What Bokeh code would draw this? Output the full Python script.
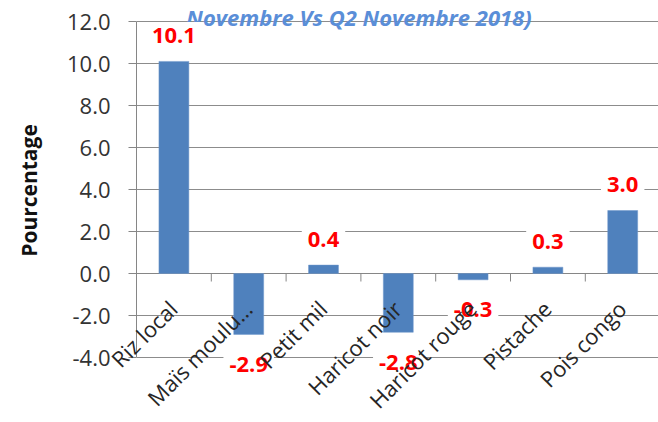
import math
from bokeh.plotting import figure
from bokeh.models import ColumnDataSource, Label, FixedTicker, NumeralTickFormatter
from bokeh.core.properties import value
from bokeh.embed import file_html
from bokeh.resources import INLINE

categories = ["Riz local", "Maïs moulu…", "Petit mil", "Haricot noir",
              "Haricot rouge", "Pistache", "Pois congo"]
values = [10.1, -2.9, 0.4, -2.8, -0.3, 0.3, 3.0]
value_labels = ["10.1", "-2.9", "0.4", "-2.8", "-0.3", "0.3", "3.0"]
y_ticks = [-4, -2, 0, 2, 4, 6, 8, 10, 12]
title_text = "Novembre Vs Q2 Novembre 2018)"
y_label = "Pourcentage"

n = len(categories)
xs = [i + 0.5 for i in range(n)]
label_off = [-26 if v >= 0 else 30 for v in values]

src = ColumnDataSource(dict(x=xs, v=values, lab=value_labels, off=label_off,
                            cat=categories, zero=[0] * n))

FONT = "Open Sans"
W, H = 658, 422
FRAME_L, FRAME_B = 136, 380
px_per_unit = 21.0
y_hi = 12 + 21 / px_per_unit
y_lo = -4 - (FRAME_B - 357) / px_per_unit

p = figure(width=W, height=H, output_backend="svg", toolbar_location=None,
           x_range=(0, (W - FRAME_L) / 74.8), y_range=(y_lo, y_hi), x_axis_location=None,
           min_border_left=FRAME_L, min_border_right=0, min_border_top=0,
           min_border_bottom=H - FRAME_B, outline_line_color=None, tools="")
p.background_fill_color = "white"
p.border_fill_color = "white"

p.xgrid.visible = False
p.ygrid.grid_line_color = "#8C8C8C"
p.ygrid.grid_line_width = 1

ax = p.yaxis[0]
ax.ticker = FixedTicker(ticks=y_ticks, minor_ticks=[])
ax.formatter = NumeralTickFormatter(format="0.0")
ax.bounds = (min(y_ticks), max(y_ticks))
ax.axis_line_color = "#868686"
ax.major_tick_line_color = "#868686"
ax.major_tick_out = 8
ax.major_tick_in = 0
ax.minor_tick_out = 0
ax.minor_tick_in = 0
ax.major_label_text_font = FONT
ax.major_label_text_font_size = "22px"
ax.major_label_text_color = "#333333"
ax.major_label_standoff = 18
ax.axis_label = y_label
ax.axis_label_text_font = FONT
ax.axis_label_text_font_style = "bold"
ax.axis_label_text_font_size = "21px"
ax.axis_label_text_color = "#111111"
ax.axis_label_standoff = 21

# zero axis line and category boundary ticks
p.segment(x0=[0], y0=[0], x1=[n], y1=[0], line_color="#868686", line_width=1)
bounds = list(range(1, n))
p.segment(x0=bounds, y0=[0] * len(bounds), x1=bounds, y1=[-8 / px_per_unit] * len(bounds),
          line_color="#868686", line_width=1)

p.vbar(x="x", top="v", bottom=0, width=0.4, source=src, fill_color="#4F81BD",
       line_color="#6F97CB", line_width=0.5)

# value labels
p.text(x="x", y="v", text="lab", source=src, y_offset="off", text_align="center",
       text_baseline="middle", text_font=value(FONT), text_font_style="bold",
       text_font_size="22px", text_color="#FF0000",
       background_fill_color="white", padding=6, level="overlay")

# category labels (rotated), drawn at overlay level so they can leave the frame
p.text(x="x", y="zero", text="cat", source=src, angle=math.pi / 4,
       text_align="right", text_baseline="middle", x_offset=-1, y_offset=31,
       text_font=value(FONT), text_font_size="22px", text_color="#262626",
       level="overlay")

title = Label(x=222.5, y=FRAME_B - 1, x_units="screen", y_units="screen", text=title_text,
              text_font=FONT, text_font_style="bold italic", text_font_size="22px",
              text_color="#5A8ED8", text_align="center", text_baseline="top")
p.add_layout(title)

open("out.html", "w").write(file_html(p, INLINE))
